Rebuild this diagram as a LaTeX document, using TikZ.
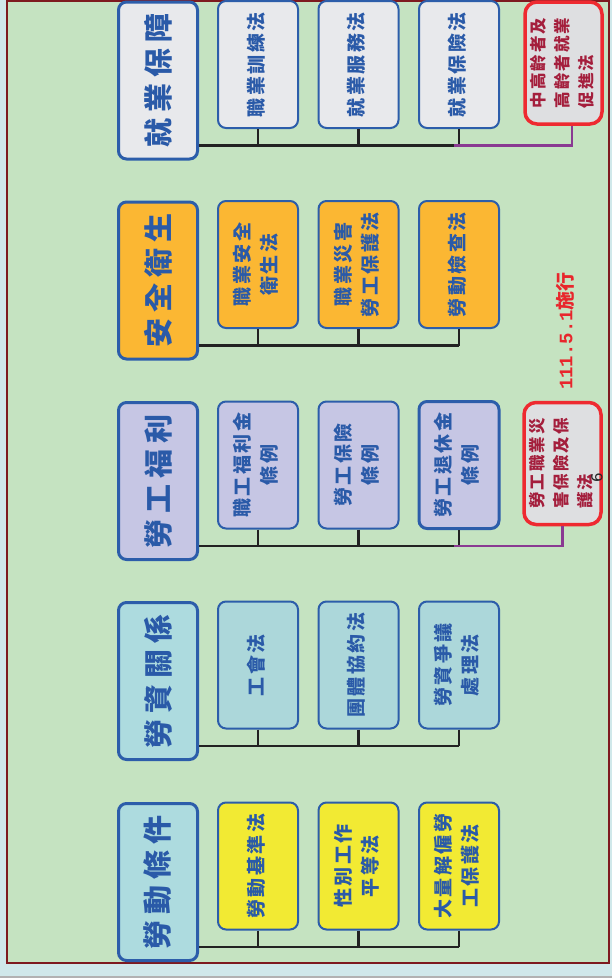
\documentclass[tikz,border=0pt]{standalone}
\usepackage{fontspec}
\newfontfamily\cjk{Noto Sans CJK TC}
\newfontfamily\monof{Liberation Mono}
\newfontfamily\pgfont{DejaVu Sans}
\definecolor{bgout}{HTML}{D0E8EA}
\definecolor{panel}{HTML}{C5E3C1}
\definecolor{frame}{HTML}{7E1A1F}
\definecolor{boxblue}{HTML}{2C5DAA}
\definecolor{txtblue}{HTML}{2A5AA8}
\definecolor{gfill}{HTML}{E8E9EC}
\definecolor{ofill}{HTML}{FBB733}
\definecolor{lfill}{HTML}{C6C6E4}
\definecolor{tfill}{HTML}{ACD7DA}
\definecolor{tmain}{HTML}{ADDBDF}
\definecolor{yfill}{HTML}{F2EA33}
\definecolor{redline}{HTML}{EE2A30}
\definecolor{redfill}{HTML}{DEDFE1}
\definecolor{redtxt}{HTML}{A41E3C}
\definecolor{purpline}{HTML}{8A3A92}
\definecolor{lineblack}{HTML}{222222}
\definecolor{datered}{HTML}{E8262C}
% even spacing between characters
\newdimen\gapk
\def\spx#1{\ifx#1\relax\else#1\expandafter\spy\fi}
\def\spy#1{\ifx#1\relax\else\kern\gapk#1\expandafter\spy\fi}
\newcommand\g[1]{\spx#1\relax}
\newcommand\mtxt[1]{\rotatebox{90}{\fontsize{29}{34}\selectfont\cjk\bfseries\gapk=6pt\g{#1}}}
\newcommand\stxt[1]{\rotatebox{90}{\fontsize{19}{27}\selectfont\cjk\bfseries\gapk=2.5pt\begin{tabular}{@{}c@{}}#1\end{tabular}}}
\newcommand\rtxt[1]{\rotatebox{90}{\fontsize{16.5}{24}\selectfont\cjk\bfseries\gapk=2pt\begin{tabular}{@{}l@{}}#1\end{tabular}}}
\tikzset{
 mainbox/.style={draw=boxblue, line width=3pt, rounded corners=8pt, minimum width=79pt, minimum height=157pt, inner sep=0pt, text=txtblue},
 subbox/.style={draw=boxblue, line width=2pt, rounded corners=8pt, minimum width=80pt, minimum height=127pt, inner sep=0pt, text=txtblue},
 redbox/.style={draw=redline, line width=3.5pt, rounded corners=12pt, fill=redfill, minimum width=77pt, minimum height=122pt, inner sep=0pt, text=redtxt},
 conn/.style={draw=lineblack, line width=2.5pt},
 purp/.style={draw=purpline, line width=2.5pt},
}
\begin{document}
\begin{tikzpicture}[x=1pt,y=-1pt]
\useasboundingbox (0,0) rectangle (612,978);
\fill[bgout] (0,0) rectangle (612,978);
\fill[black!30] (0,976) rectangle (612,978);
\draw[frame, line width=2.5pt, fill=panel] (7,0.8) rectangle (609,963);

% group 1
\node[mainbox, fill=gfill] (m1) at (158,80.5) {\mtxt{就業保障}};
\node[subbox, fill=gfill] (s11) at (258,64.5) {\stxt{\g{職業訓練法}}};
\node[subbox, fill=gfill] (s12) at (358.5,64.5) {\stxt{\g{就業服務法}}};
\node[subbox, fill=gfill] (s13) at (459,64.5) {\stxt{\g{就業保險法}}};
\node[redbox] (r1) at (563.5,63) {\rtxt{\g{中高齡者及}\\\g{高齡者就業}\\\g{促進法}}};

% group 2
\node[mainbox, fill=ofill] (m2) at (158,280.5) {\mtxt{安全衛生}};
\node[subbox, fill=ofill] (s21) at (258,264.5) {\stxt{\g{職業安全}\\\g{衛生法}}};
\node[subbox, fill=ofill] (s22) at (358.5,264.5) {\stxt{\g{職業災害}\\\g{勞工保護法}}};
\node[subbox, fill=ofill] (s23) at (459,264.5) {\stxt{\g{勞動檢查法}}};

% group 3
\node[mainbox, fill=lfill] (m3) at (158,481) {\mtxt{勞工福利}};
\node[subbox, fill=lfill] (s31) at (258,465) {\stxt{\g{職工福利金}\\\g{條例}}};
\node[subbox, fill=lfill] (s32) at (358.5,465) {\stxt{\g{勞工保險}\\\g{條例}}};
\node[subbox, fill=lfill, line width=3pt] (s33) at (459,465) {\stxt{\g{勞工退休金}\\\g{條例}}};
\node[redbox] (r3) at (562.5,463.5) {\rtxt{\g{勞工職業災}\\\g{害保險及保}\\\g{護法}}};

% group 4
\node[mainbox, fill=tmain] (m4) at (158,681) {\mtxt{勞資關係}};
\node[subbox, fill=tfill] (s41) at (258,665) {\stxt{\g{工會法}}};
\node[subbox, fill=tfill] (s42) at (358.5,665) {\stxt{\g{團體協約法}}};
\node[subbox, fill=tfill] (s43) at (459,665) {\stxt{\g{勞資爭議}\\\g{處理法}}};

% group 5
\node[mainbox, fill=tmain] (m5) at (158,882) {\mtxt{勞動條件}};
\node[subbox, fill=yfill] (s51) at (258,866) {\stxt{\g{勞動基準法}}};
\node[subbox, fill=yfill] (s52) at (358.5,866) {\stxt{\g{性別工作}\\\g{平等法}}};
\node[subbox, fill=yfill] (s53) at (459,866) {\stxt{\g{大量解僱勞}\\\g{工保護法}}};

% connectors
\foreach \n in {1,...,5}{
  \draw[conn] (s\n1.south) -- ++(0,16.5) coordinate (j\n);
  \draw[conn] (m\n.east |- j\n) -- (s\n3.south |- j\n);
  \draw[conn] (s\n2.south) -- (s\n2.south |- j\n);
  \draw[conn] (s\n3.south) -- (s\n3.south |- j\n);
}
\draw[purp] ([xshift=8.5pt]r1.south) |- ([xshift=-5pt]s13.south |- j1);
\draw[purp] (r3.south) |- ([xshift=-5pt]s33.south |- j3);

% notes
\node[text=datered, inner sep=0pt] (date) at (565,331) {\rotatebox{90}{\fontsize{19}{22}\selectfont\bfseries{\monof 111.5.1}{\cjk 施行}}};
\node[text=black!85, inner sep=0pt] (pg) at (597,478) {\rotatebox{90}{\pgfont\fontsize{15}{15}\selectfont 6}};
\end{tikzpicture}
\end{document}
